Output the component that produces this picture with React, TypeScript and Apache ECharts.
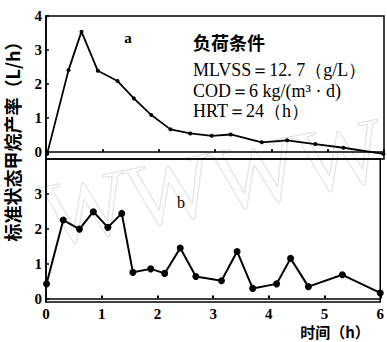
import React, { useEffect, useRef } from "react";
import * as echarts from "echarts";

const xTicks = [0, 1, 2, 3, 4, 5, 6];
const topYTicks = [0, 1, 2, 3, 4];
const bottomYTicks = [0, 1, 2, 3];

const seriesA: [number, number][] = [
  [0.02, -0.05], [0.40, 2.41], [0.63, 3.54], [0.92, 2.39], [1.27, 2.09],
  [1.56, 1.58], [1.87, 1.09], [2.21, 0.67], [2.56, 0.55], [2.94, 0.48],
  [3.28, 0.52], [3.83, 0.29], [4.28, 0.35], [4.78, 0.24], [5.28, 0.13],
  [5.99, -0.05],
];

const seriesB: [number, number][] = [
  [0.01, 0.42], [0.31, 2.25], [0.60, 1.99], [0.85, 2.49], [1.11, 2.04],
  [1.36, 2.44], [1.56, 0.75], [1.88, 0.85], [2.13, 0.72], [2.41, 1.45],
  [2.69, 0.63], [3.15, 0.51], [3.43, 1.35], [3.71, 0.29], [4.14, 0.42],
  [4.39, 1.15], [4.71, 0.34], [5.32, 0.68], [6.0, 0.16],
];

const serif = "Liberation Serif";
const cjk = "Noto Sans CJK SC";

export default function App() {
  const ref = useRef<HTMLDivElement>(null);
  useEffect(() => {
    document.body.style.margin = "0";
    const chart = echarts.init(ref.current!, null, { renderer: "svg" });
    const tickLabel = { fontFamily: serif, fontWeight: "bold" as const, fontSize: 15, color: "#000" };
    chart.setOption({
      animation: false,
      backgroundColor: "#fff",
      grid: [
        { left: 46, right: 3, top: 16, height: 143, show: true, borderColor: "#000", borderWidth: 1.5 },
        { left: 46, right: 3, top: 159, height: 143, show: true, borderColor: "#000", borderWidth: 1.5 },
      ],
      xAxis: [
        {
          gridIndex: 0, type: "value", min: 0, max: 6, interval: 1,
          axisLine: { lineStyle: { color: "#000", width: 1.5 } },
          axisTick: { inside: true, length: 3, lineStyle: { color: "#000", width: 2 } },
          axisLabel: { show: false },
          splitLine: { show: false },
        },
        {
          gridIndex: 1, type: "value", min: 0, max: 6, interval: 1,
          axisLine: { lineStyle: { color: "#000", width: 1.5 } },
          axisTick: { inside: true, length: 3, lineStyle: { color: "#000", width: 2 } },
          axisLabel: { ...tickLabel, margin: 4, formatter: (v: number) => (xTicks.includes(v) ? String(v) : "") },
          splitLine: { show: false },
        },
      ],
      yAxis: [
        {
          gridIndex: 0, type: "value", min: -0.2, max: 4,
          axisLine: { lineStyle: { color: "#000", width: 1.5 } },
          axisTick: { inside: true, length: 3, customValues: topYTicks, lineStyle: { color: "#000", width: 1.5 } },
          axisLabel: { ...tickLabel, margin: 4, customValues: topYTicks },
          splitLine: { show: false },
        },
        {
          gridIndex: 1, type: "value", min: -0.1, max: 4,
          axisLine: { lineStyle: { color: "#000", width: 1.5 } },
          axisTick: { inside: true, length: 3, customValues: bottomYTicks, lineStyle: { color: "#000", width: 1.5 } },
          axisLabel: { ...tickLabel, margin: 4, customValues: bottomYTicks },
          splitLine: { show: false },
        },
      ],
      series: [
        {
          type: "line", xAxisIndex: 0, yAxisIndex: 0, data: seriesA,
          symbol: "circle", symbolSize: 4, clip: false,
          lineStyle: { color: "#000", width: 1.8 },
          itemStyle: { color: "#000" },
        },
        {
          type: "line", xAxisIndex: 1, yAxisIndex: 1, data: seriesB,
          symbol: "circle", symbolSize: 7, clip: false,
          lineStyle: { color: "#000", width: 2 },
          itemStyle: { color: "#000" },
        },
      ],
      graphic: [
        {
          type: "text", x: 52, y: 262, rotation: 0.2, z: -1, silent: true,
          style: { text: "WWWW", fontFamily: serif, fontSize: 92, fill: "none", stroke: "#e4e4e4", lineWidth: 1.2, verticalAlign: "bottom" },
        },
        {
          type: "text", x: 12, y: 137, rotation: Math.PI / 2,
          style: { text: "标准状态甲烷产率（L/h）", fontFamily: cjk, fontWeight: "bold", fontSize: 18, fill: "#000", align: "center", verticalAlign: "middle" },
        },
        {
          type: "text", x: 128, y: 38,
          style: { text: "a", fontFamily: serif, fontWeight: "bold", fontSize: 15, fill: "#000", align: "center", verticalAlign: "middle" },
        },
        {
          type: "text", x: 181, y: 202,
          style: { text: "b", fontFamily: serif, fontSize: 16, fill: "#000", align: "center", verticalAlign: "middle" },
        },
        {
          type: "text", x: 193, y: 42,
          style: { text: "负荷条件", fontFamily: cjk, fontWeight: "bold", fontSize: 18, fill: "#000", verticalAlign: "middle" },
        },
        {
          type: "text", x: 193, y: 70,
          style: { text: "MLVSS＝12. 7（g/L）", fontFamily: serif, fontSize: 18, fill: "#000", verticalAlign: "middle" },
        },
        {
          type: "text", x: 193, y: 91,
          style: { text: "COD＝6 kg/(m³ · d)", fontFamily: serif, fontSize: 18, fill: "#000", verticalAlign: "middle" },
        },
        {
          type: "text", x: 193, y: 111,
          style: { text: "HRT＝24（h）", fontFamily: serif, fontSize: 18, fill: "#000", verticalAlign: "middle" },
        },
        {
          type: "text", x: 335, y: 331,
          style: { text: "时间（h）", fontFamily: cjk, fontWeight: "bold", fontSize: 15, lineHeight: 15, fill: "#000", align: "center", verticalAlign: "middle" },
        },
      ],
    });
    return () => chart.dispose();
  }, []);
  return <div ref={ref} style={{ width: 387, height: 342 }} />;
}
